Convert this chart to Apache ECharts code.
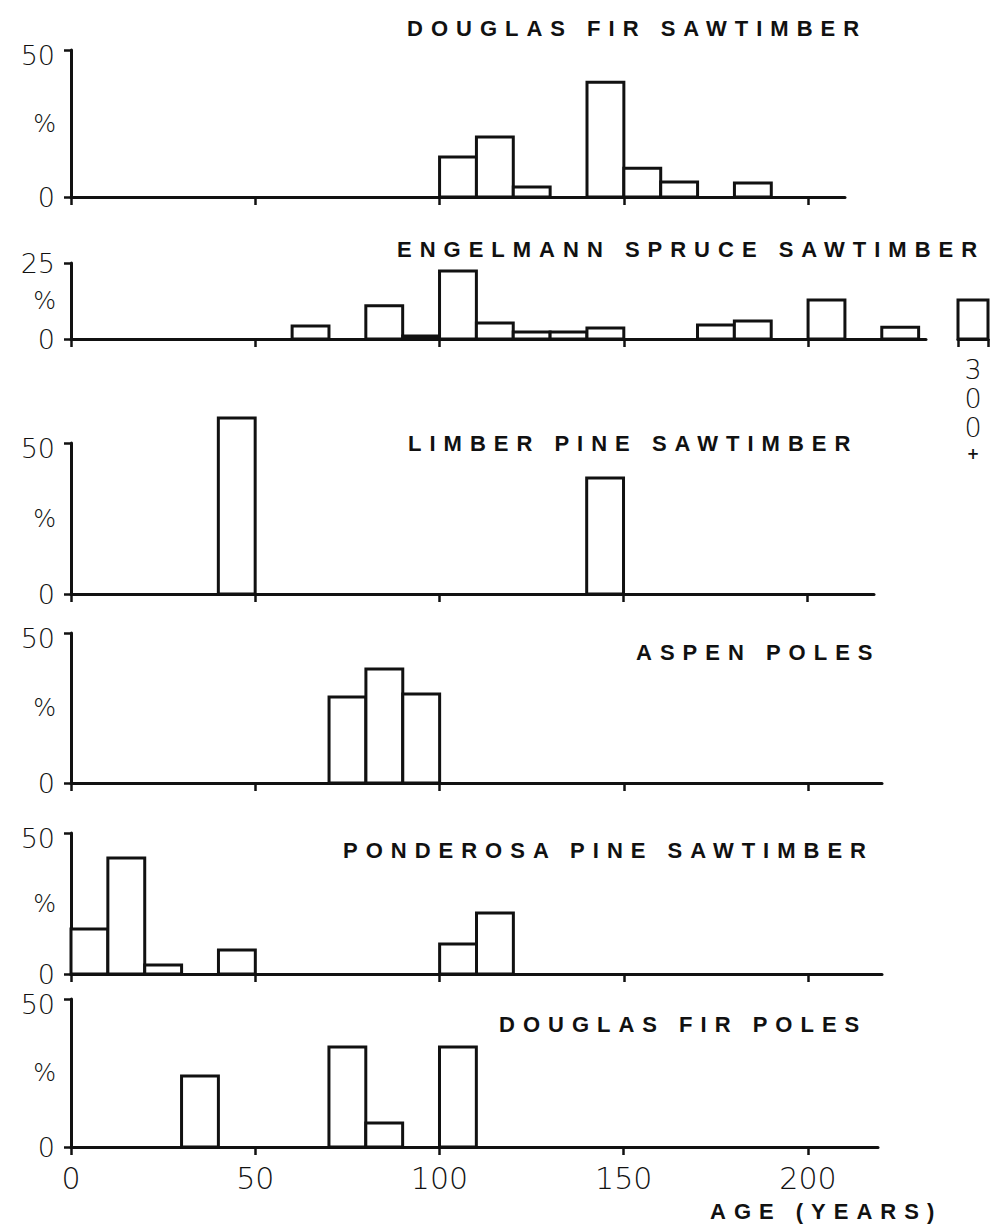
<!DOCTYPE html>
<html>
<head>
<meta charset="utf-8">
<script src="https://cdn.jsdelivr.net/npm/echarts@6/dist/echarts.min.js"></script>
<style>
  html, body { margin: 0; padding: 0; background: #fff; }
  #chart { width: 996px; height: 1224px; }
  /* spaced-out capitals for panel headings */
  #chart text[style*="Liberation"] { letter-spacing: 8px; }
</style>
</head>
<body>
<div id="chart"></div>
<script>
// Stand-age distributions: each bar is a 10-year age class, value = percent of stands.
const BIN_YEARS = 10;
const ageTicks = [0, 50, 100, 150, 200];

const dfSawAges = [100, 110, 120, 140, 150, 160, 180];
const dfSawPct  = [13.6, 20.4, 3.4, 39.0, 9.8, 5.1, 4.8];

const esSawAges = [60, 80, 90, 100, 110, 120, 130, 140, 170, 180, 200, 220];
const esSawPct  = [4.3, 10.9, 1.0, 22.4, 5.3, 2.3, 2.3, 3.6, 4.6, 5.9, 12.8, 3.9];
const esOldClass = ['300+'];
const esOldPct   = [12.8];

const lpSawAges = [40, 140];
const lpSawPct  = [58.3, 38.4];

const aspenAges = [70, 80, 90];
const aspenPct  = [28.7, 38.0, 29.7];

const ppSawAges = [0, 10, 20, 40, 100, 110];
const ppSawPct  = [16.0, 41.1, 3.2, 8.5, 10.6, 21.6];

const dfPoleAges = [30, 70, 80, 100];
const dfPolePct  = [24.0, 33.8, 8.1, 33.8];

const panelTitles = [
  'DOUGLAS FIR SAWTIMBER',
  'ENGELMANN SPRUCE SAWTIMBER',
  'LIMBER PINE SAWTIMBER',
  'ASPEN POLES',
  'PONDEROSA PINE SAWTIMBER',
  'DOUGLAS FIR POLES'
];
const xAxisTitle = 'AGE (YEARS)';
const yAxisName = '%';

const panelData = [
  [dfSawAges, dfSawPct],
  [esSawAges, esSawPct],
  [lpSawAges, lpSawPct],
  [aspenAges, aspenPct],
  [ppSawAges, ppSawPct],
  [dfPoleAges, dfPolePct]
];

// ---- layout ----
const LEFT = 71;
const PX_PER_YEAR = 3.685;
const panels = [
  { top: 50,  height: 147, xMax: 210, yMax: 50, title: [407, 28] },
  { top: 263, height: 76,  xMax: 232, yMax: 25, title: [397, 249] },
  { top: 443, height: 151, xMax: 218, yMax: 50, title: [408, 443] },
  { top: 633, height: 150, xMax: 220, yMax: 50, title: [636, 652] },
  { top: 833, height: 141, xMax: 220, yMax: 50, title: [343, 850] },
  { top: 999, height: 148, xMax: 219, yMax: 50, title: [499, 1024] }
];

const INK = '#111';
const numFont = 'DejaVu Sans';
const headFont = 'bold 22px "Liberation Sans"';

const numStyle = { fontFamily: numFont, fontWeight: 200, fontSize: 27, lineHeight: 16, color: INK };

const grid = [], xAxis = [], yAxis = [], series = [];

function binRect(params, api) {
  const start = api.value(0);
  const pct = api.value(1);
  const p0 = api.coord([start, 0]);
  const p1 = api.coord([start + BIN_YEARS, pct]);
  return {
    type: 'rect',
    shape: { x: p0[0], y: p1[1], width: p1[0] - p0[0], height: p0[1] - p1[1] },
    style: { fill: '#fff', stroke: INK, lineWidth: 3 }
  };
}

panels.forEach((p, i) => {
  grid.push({
    left: LEFT, top: p.top, width: Math.round(p.xMax * PX_PER_YEAR), height: p.height,
    containLabel: false, outerBoundsMode: 'none'
  });
  const last = i === panels.length - 1;
  xAxis.push({
    type: 'value', gridIndex: i, min: 0, max: p.xMax, interval: 50,
    axisLine: { show: true, lineStyle: { color: INK, width: 3 } },
    axisTick: { show: true, length: 8, customValues: ageTicks, lineStyle: { color: INK, width: 2.5 } },
    axisLabel: {
      show: last, customValues: ageTicks, margin: 16, color: INK,
      fontFamily: numFont, fontWeight: 200, fontSize: 30
    },
    splitLine: { show: false }
  });
  yAxis.push({
    type: 'value', gridIndex: i, min: 0, max: p.yMax, interval: p.yMax,
    axisLine: { show: true, lineStyle: { color: INK, width: 3 } },
    axisTick: { show: true, length: 7, lineStyle: { color: INK, width: 2.5 } },
    axisLabel: {
      margin: 16, color: INK, fontFamily: numFont, fontWeight: 200, fontSize: 27, lineHeight: 16,
      // the 50 % label hangs just below its tick
      formatter: v => (v === 50 ? '{hang|' + v + '}' : '{n|' + v + '}'),
      rich: {
        n: numStyle,
        hang: Object.assign({}, numStyle, { padding: [11, 0, 0, 0] })
      }
    },
    splitLine: { show: false },
    name: yAxisName, nameLocation: 'middle', nameRotate: 0, nameGap: 15, nameMoveOverlap: false,
    nameTextStyle: { color: INK, fontFamily: numFont, fontWeight: 200, fontSize: 24 }
  });
  const [ages, pct] = panelData[i];
  series.push({
    type: 'custom', xAxisIndex: i, yAxisIndex: i, clip: false,
    renderItem: binRect,
    data: ages.map((a, k) => [a, pct[k]])
  });
});

// separate open-ended class for the oldest Engelmann spruce stands
grid.push({ left: 958, top: 263, width: 30, height: 76, containLabel: false, outerBoundsMode: 'none' });
xAxis.push({
  type: 'category', gridIndex: 6, data: esOldClass, boundaryGap: true,
  axisLine: { show: true, lineStyle: { color: INK, width: 3 } },
  axisTick: { show: true, length: 8, lineStyle: { color: INK, width: 2.5 } },
  axisLabel: {
    margin: 16, interval: 0,
    formatter: v => v.split('').map(c => c === '+' ? '{p|+}' : '{d|' + c + '}').join('\n'),
    rich: {
      d: { fontFamily: numFont, fontWeight: 200, fontSize: 27, lineHeight: 29, color: INK },
      p: { fontFamily: numFont, fontWeight: 'bold', fontSize: 15, lineHeight: 24, color: INK }
    }
  }
});
yAxis.push({ type: 'value', gridIndex: 6, min: 0, max: 25, show: false });
series.push({
  type: 'custom', xAxisIndex: 6, yAxisIndex: 6, clip: false,
  renderItem: (params, api) => {
    const c = api.coord([api.value(0), api.value(1)]);
    const base = api.coord([api.value(0), 0]);
    const w = api.size([1, 0])[0];
    return {
      type: 'rect',
      shape: { x: c[0] - w / 2, y: c[1], width: w, height: base[1] - c[1] },
      style: { fill: '#fff', stroke: INK, lineWidth: 3 }
    };
  },
  data: esOldClass.map((c, k) => [k, esOldPct[k]])
});

const graphic = panels.map((p, i) => ({
  type: 'text', x: p.title[0], y: p.title[1],
  style: { text: panelTitles[i], font: headFont, fill: INK, align: 'left', verticalAlign: 'middle' }
}));
graphic.push({
  type: 'text', x: 710, y: 1211,
  style: { text: xAxisTitle, font: headFont, fill: INK, align: 'left', verticalAlign: 'middle' }
});

const chart = echarts.init(document.getElementById('chart'), null, { renderer: 'svg' });
chart.setOption({
  animation: false,
  backgroundColor: '#fff',
  grid, xAxis, yAxis, series, graphic
});
</script>
</body>
</html>
